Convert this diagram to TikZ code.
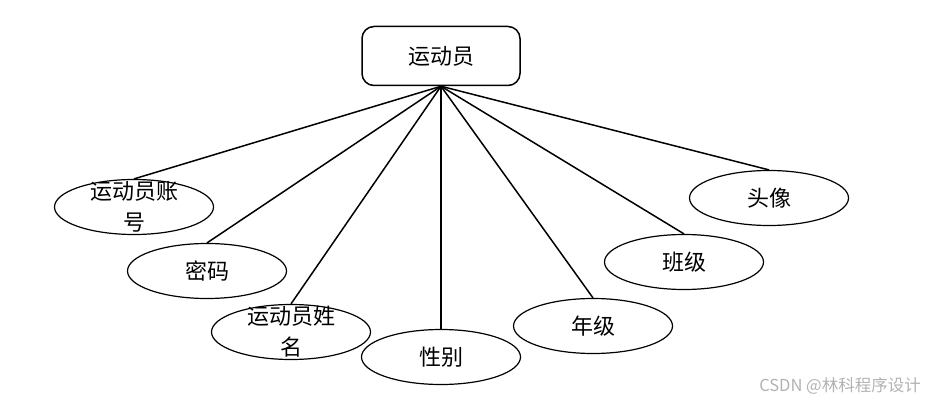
\documentclass[tikz,border=0pt]{standalone}
\usepackage{fontspec}
\newfontfamily\cjk{Noto Sans CJK SC}
\usepackage{tikz}
\usetikzlibrary{shapes.geometric}

\tikzset{
  entitybox/.style={draw, rounded corners=12pt, minimum width=158pt, minimum height=59pt, line width=1.5pt, font=\cjk\fontsize{22}{30}\selectfont},
  attr/.style={draw, ellipse, line width=1.2pt, minimum width=159pt, minimum height=55pt, inner sep=0pt, font=\cjk\fontsize{22}{30}\selectfont},
  attrtext/.style={align=center, inner sep=0pt, font=\cjk\fontsize{22}{31}\selectfont},
  link/.style={line width=1.5pt}
}

\begin{document}
\begin{tikzpicture}[x=1pt, y=-1pt]
\useasboundingbox (0,0) rectangle (931,401);
\node[entitybox] (athlete) at (441,56) {运动员};
\node[attr, label={[attrtext]center:运动员账\\号}] (account) at (134,207) {};
\node[attr] (password) at (207,271) {密码};
\node[attr, label={[attrtext]center:运动员姓\\名}] (name) at (291,332) {};
\node[attr] (gender) at (441,357) {性别};
\node[attr] (grade) at (593,326) {年级};
\node[attr] (class) at (684,262) {班级};
\node[attr] (avatar) at (769,198) {头像};
\coordinate (hub) at (athlete.south);
\draw[link] (hub) -- (account.north);
\draw[link] (hub) -- (password.north);
\draw[link] (hub) -- (name.north);
\draw[link] (hub) -- (gender.north);
\draw[link] (hub) -- (grade.north);
\draw[link] (hub) -- (class.north);
\draw[link] (hub) -- (avatar.north);
\node[text=black!30, font=\cjk\fontsize{16.5}{18}\selectfont] (mark) at (840,386) {CSDN @林科程序设计};
\end{tikzpicture}
\end{document}
